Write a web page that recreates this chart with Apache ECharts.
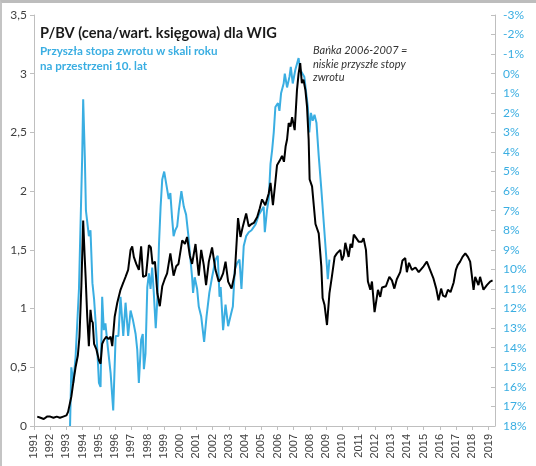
<!DOCTYPE html>
<html>
<head>
<meta charset="utf-8">
<script src="https://cdn.jsdelivr.net/npm/echarts@6/dist/echarts.min.js"></script>
<style>
html, body { margin: 0; padding: 0; background: #fff; }
#main { position: absolute; left: 0; top: 0; width: 536px; height: 466px; }
#frame { position: absolute; left: 0; top: 0; width: 536px; height: 466px; box-sizing: border-box;
         border-top: 3px solid #bdbdbd; border-left: 2px solid #c4c4c4; pointer-events: none; }
</style>
</head>
<body>
<div id="main"></div>
<div id="frame"></div>
<script>
// P/BV dla WIG (lewa os)
var pbvYears = [1991.2,1991.4,1991.6,1991.8,1992.0,1992.2,1992.4,1992.6,1992.8,1993.0,1993.1,1993.3,1993.45,1993.56,1993.7,1993.8,1993.92,1994.03,1994.12,1994.18,1994.28,1994.38,1994.48,1994.55,1994.62,1994.7,1994.85,1995.0,1995.1,1995.2,1995.3,1995.45,1995.6,1995.72,1995.82,1995.97,1996.13,1996.33,1996.5,1996.64,1996.8,1996.95,1997.05,1997.15,1997.3,1997.46,1997.6,1997.72,1997.9,1998.08,1998.2,1998.3,1998.45,1998.6,1998.75,1998.9,1999.05,1999.2,1999.4,1999.5,1999.6,1999.76,1999.9,2000.13,2000.3,2000.43,2000.6,2000.74,2000.95,2001.15,2001.3,2001.46,2001.6,2001.77,2001.97,2002.18,2002.38,2002.5,2002.65,2002.8,2002.96,2003.17,2003.37,2003.57,2003.72,2003.85,2004.07,2004.23,2004.4,2004.55,2004.75,2004.9,2005.05,2005.25,2005.46,2005.57,2005.72,2005.87,2005.97,2006.14,2006.28,2006.4,2006.5,2006.59,2006.69,2006.8,2006.9,2007.06,2007.2,2007.3,2007.4,2007.5,2007.6,2007.72,2007.82,2007.92,2007.98,2008.13,2008.34,2008.54,2008.7,2008.78,2008.9,2009.05,2009.2,2009.36,2009.52,2009.66,2009.77,2009.87,2009.97,2010.08,2010.18,2010.28,2010.38,2010.5,2010.6,2010.7,2010.8,2010.9,2011.0,2011.2,2011.3,2011.45,2011.57,2011.72,2011.82,2011.98,2012.19,2012.33,2012.44,2012.68,2012.89,2013.05,2013.2,2013.35,2013.56,2013.7,2013.87,2013.97,2014.1,2014.28,2014.5,2014.7,2015.0,2015.2,2015.4,2015.6,2015.78,2015.92,2016.08,2016.2,2016.35,2016.5,2016.66,2016.85,2016.99,2017.1,2017.25,2017.4,2017.57,2017.73,2017.87,2017.97,2018.08,2018.18,2018.38,2018.48,2018.69,2018.9,2019.1,2019.25];
var pbvValues = [0.08,0.07,0.06,0.08,0.08,0.07,0.08,0.07,0.08,0.09,0.12,0.25,0.40,0.50,0.60,0.76,1.20,1.75,1.45,1.27,0.93,0.68,0.99,0.90,0.88,0.70,0.65,0.56,0.53,0.70,0.73,0.76,0.74,0.76,0.68,0.93,1.05,1.16,1.22,1.27,1.33,1.50,1.53,1.44,1.38,1.33,1.53,1.27,1.28,1.54,1.52,1.38,1.40,1.13,1.02,1.19,1.25,1.30,1.47,1.48,1.28,1.36,1.38,1.58,1.55,1.61,1.45,1.38,1.55,1.28,1.50,1.37,1.20,1.40,1.52,1.33,1.23,1.25,1.30,1.40,1.23,1.17,1.30,1.77,1.61,1.69,1.81,1.70,1.72,1.73,1.78,1.85,1.93,1.88,1.98,2.07,1.88,2.08,2.22,2.26,2.30,2.25,2.38,2.44,2.58,2.55,2.63,2.52,2.86,3.00,3.09,2.92,2.95,2.86,2.72,2.44,2.10,2.04,1.72,1.64,1.36,1.09,1.03,0.86,1.13,1.28,1.44,1.47,1.47,1.50,1.41,1.45,1.56,1.50,1.44,1.55,1.52,1.63,1.61,1.60,1.57,1.57,1.60,1.50,1.23,1.16,1.23,0.97,1.16,1.10,1.18,1.19,1.27,1.24,1.17,1.25,1.31,1.41,1.43,1.31,1.39,1.33,1.35,1.31,1.36,1.40,1.33,1.26,1.17,1.07,1.17,1.11,1.10,1.16,1.14,1.22,1.33,1.37,1.40,1.44,1.47,1.44,1.40,1.41,1.16,1.27,1.20,1.27,1.16,1.20,1.23,1.24];

// Przyszla stopa zwrotu, % (prawa os, odwrocona)
var retYears = [1993.22,1993.3,1993.42,1993.56,1993.77,1993.97,1994.03,1994.13,1994.2,1994.28,1994.38,1994.48,1994.6,1994.7,1994.8,1994.9,1995.0,1995.1,1995.2,1995.3,1995.4,1995.55,1995.72,1995.88,1996.03,1996.2,1996.33,1996.5,1996.64,1996.8,1996.95,1997.1,1997.26,1997.36,1997.46,1997.6,1997.7,1997.77,1997.87,1997.98,1998.08,1998.18,1998.28,1998.38,1998.5,1998.6,1998.7,1998.8,1998.9,1999.02,1999.2,1999.3,1999.4,1999.5,1999.6,1999.7,1999.82,1999.92,2000.08,2000.23,2000.37,2000.5,2000.64,2000.74,2000.8,2000.9,2001.05,2001.15,2001.3,2001.48,2001.63,2001.8,2001.97,2002.18,2002.32,2002.43,2002.5,2002.65,2002.8,2002.96,2003.1,2003.25,2003.37,2003.5,2003.66,2003.78,2003.92,2004.07,2004.23,2004.4,2004.65,2004.85,2005.0,2005.15,2005.22,2005.35,2005.46,2005.57,2005.67,2005.77,2005.87,2006.03,2006.12,2006.22,2006.38,2006.45,2006.59,2006.74,2006.82,2006.94,2007.1,2007.3,2007.4,2007.52,2007.65,2007.75,2007.87,2007.96,2008.06,2008.17,2008.28,2008.4,2008.54,2008.7,2008.85,2008.99,2009.1,2009.2];
var retValues = [18.0,15.0,15.8,14.5,11.0,4.2,1.3,4.2,7.0,6.9,8.3,8.0,10.7,11.5,12.75,14.1,15.8,16.0,11.4,13.1,12.75,14.0,15.3,17.2,13.4,13.4,11.4,13.4,11.7,13.4,12.1,12.6,13.3,14.1,15.8,13.6,13.3,15.1,14.3,10.9,10.2,11.0,9.9,11.2,13.0,11.5,8.7,6.8,5.4,5.0,5.9,6.4,6.1,7.3,8.3,8.0,7.8,7.0,6.0,6.8,7.2,8.2,9.5,10.4,11.2,10.4,11.0,11.9,12.4,13.7,12.4,11.2,10.4,9.5,9.3,11.4,10.9,13.1,11.8,12.9,12.4,11.9,10.0,9.7,9.5,11.0,8.8,8.3,8.1,8.0,7.7,7.2,7.0,6.8,8.1,7.0,6.4,4.6,3.9,3.0,1.7,1.5,1.9,1.0,0.5,0.0,0.7,0.15,-0.35,0.5,-0.2,-0.8,-0.2,-0.1,0.15,0.2,1.7,3.0,2.0,2.4,2.1,2.5,4.2,5.9,7.6,9.2,10.5,9.5];

var pbvData = pbvYears.map(function (y, i) { return [y, pbvValues[i]]; });
var retData = retYears.map(function (y, i) { return [y, retValues[i]]; });

var BLUE = '#3aaee2';
var GREY = '#bfbfbf';
var FONT = 'Lato';

var myChart = echarts.init(document.getElementById('main'));
var option = {
    animation: false,
    backgroundColor: '#fff',
    grid: { left: 34, right: 41, top: 15, bottom: 40 },
    xAxis: {
        type: 'value',
        min: 1991,
        max: 2019.4,
        interval: 1,
        axisLine: { show: true, lineStyle: { color: GREY } },
        axisTick: { show: true, length: 4, lineStyle: { color: GREY } },
        splitLine: { show: false },
        axisLabel: {
            rotate: 90,
            margin: 8,
            color: '#404040',
            fontSize: 11,
            fontFamily: 'Liberation Sans',
            showMaxLabel: false,
            formatter: function (v) { return Math.abs(v - Math.round(v)) < 1e-6 ? String(Math.round(v)) : ''; }
        }
    },
    yAxis: [
        {
            type: 'value',
            position: 'left',
            min: 0,
            max: 3.5,
            interval: 0.5,
            axisLine: { show: true, lineStyle: { color: GREY } },
            axisTick: { show: true, length: 4, lineStyle: { color: GREY } },
            splitLine: { show: false },
            axisLabel: {
                color: '#404040',
                fontSize: 12,
                fontFamily: FONT,
                margin: 7,
                formatter: function (v) { return String(v).replace('.', ','); }
            }
        },
        {
            type: 'value',
            position: 'right',
            inverse: true,
            min: -3,
            max: 18,
            interval: 1,
            axisLine: { show: true, lineStyle: { color: GREY } },
            axisTick: { show: true, inside: true, length: 4, lineStyle: { color: GREY } },
            splitLine: { show: false },
            axisLabel: {
                color: BLUE,
                fontSize: 12,
                fontFamily: FONT,
                margin: 8,
                formatter: '{value}%'
            }
        }
    ],
    graphic: [
        { type: 'text', left: 40, top: 26, style: { text: 'P/BV (cena/wart. księgowa) dla WIG', fill: '#1a1a1a', font: 'bold 14.6px Lato' } },
        { type: 'text', left: 40, top: 45, style: { text: 'Przyszła stopa zwrotu w skali roku', fill: BLUE, font: 'bold 11.6px Lato' } },
        { type: 'text', left: 40, top: 60, style: { text: 'na przestrzeni 10. lat', fill: BLUE, font: 'bold 11.6px Lato' } },
        { type: 'text', left: 313, top: 44, style: { text: 'Bańka 2006-2007 =\nniskie przyszłe stopy\nzwrotu', fill: '#333', font: 'italic 11px Lato', lineHeight: 13.5 } }
    ],
    series: [
        {
            name: 'Stopa zwrotu',
            type: 'line',
            yAxisIndex: 1,
            data: retData,
            showSymbol: false,
            lineStyle: { color: BLUE, width: 2 },
            z: 2
        },
        {
            name: 'P/BV',
            type: 'line',
            yAxisIndex: 0,
            data: pbvData,
            showSymbol: false,
            lineStyle: { color: '#000', width: 2 },
            z: 3
        }
    ]
};
if (option && typeof option === "object") {
    myChart.setOption(option, true);
}
</script>
</body>
</html>
